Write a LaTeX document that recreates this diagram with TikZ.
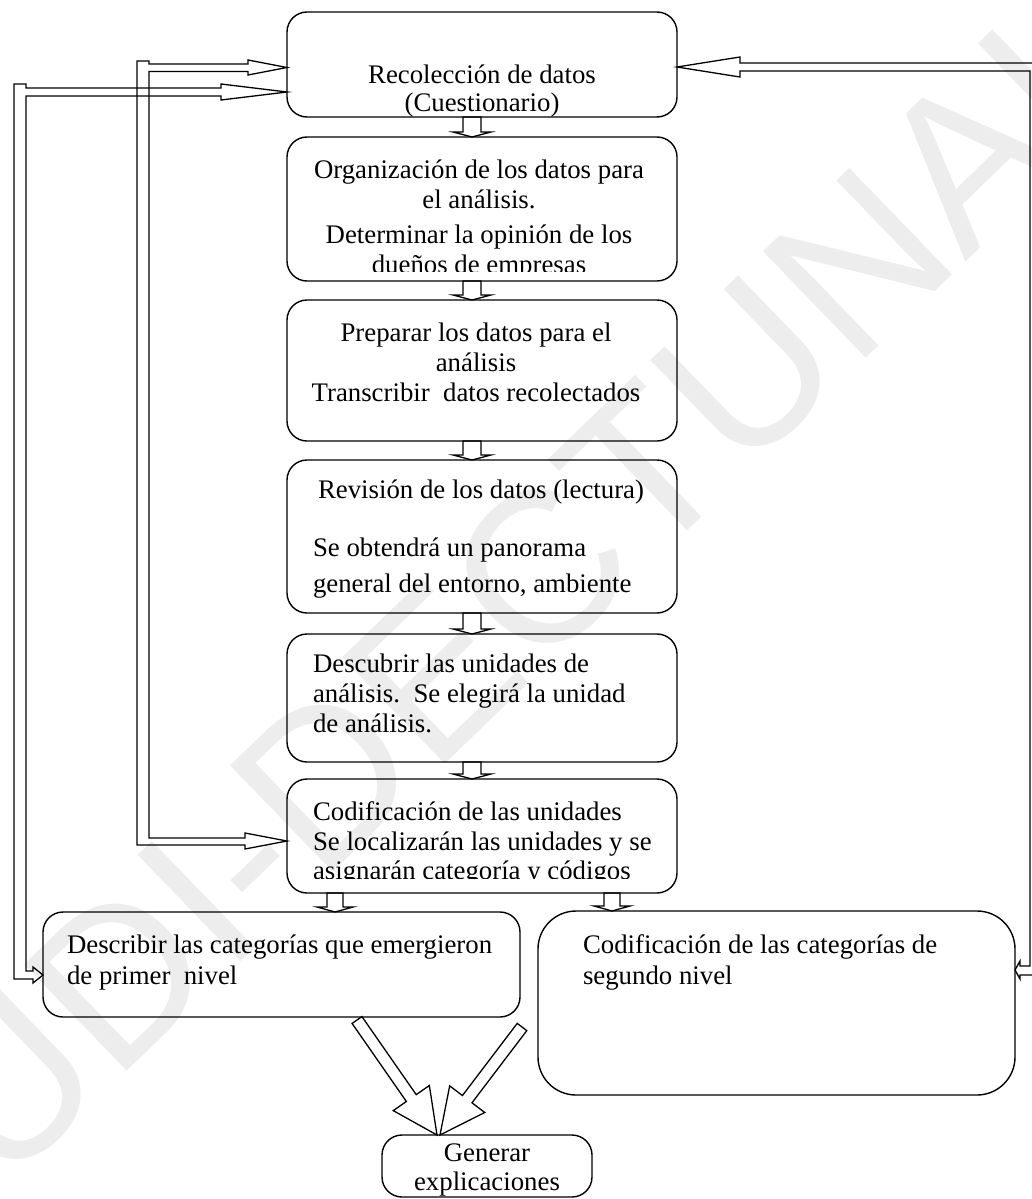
\documentclass[tikz,border=0pt]{standalone}
\usepackage{fontspec}
\setmainfont{Liberation Serif}
\newfontfamily\wmfont{Liberation Sans}
\usetikzlibrary{calc}
\newcommand\blkarrow[5]{%
  \coordinate (ba-h) at ($(#2)!#5!(#1)$);
  \draw[blk] ($(#1)!#3!90:(#2)$) -- ($(ba-h)!#3!90:(#2)$) -- ($(ba-h)!#4!90:(#2)$) -- (#2)
    -- ($(ba-h)!#4!-90:(#2)$) -- ($(ba-h)!#3!-90:(#2)$) -- ($(#1)!#3!-90:(#2)$) -- cycle;}
\begin{document}
\begin{tikzpicture}[x=1pt,y=-1pt,
  box/.style={draw, line width=1.4pt, rounded corners=20pt, inner sep=0pt, outer sep=0pt},
  txt/.style={font=\fontsize{26.8}{30}\selectfont, inner sep=0pt, outer sep=0pt},
  blk/.style={draw, line width=1.3pt, line join=miter},
  wm/.style={font=\wmfont\fontsize{215}{215}\selectfont, text=black!7, rotate=44}]
\useasboundingbox (0,0) rectangle (1031,1199);
\node[wm] (wm) at (540,570) {UDI-DECTUNAH};
% boxes
\node[box, minimum width=390pt, minimum height=105pt] (b1) at (482,64.5) {};
\node[box, minimum width=390pt, minimum height=144pt] (b2) at (482,209) {};
\node[box, minimum width=390pt, minimum height=141pt] (b3) at (482,370.5) {};
\node[box, minimum width=390pt, minimum height=153pt] (b4) at (482,536.5) {};
\node[box, minimum width=390pt, minimum height=128pt] (b5) at (482,698) {};
\node[box, minimum width=390pt, minimum height=114pt] (b6) at (482,836) {};
\node[box, minimum width=477pt, minimum height=105pt] (b7) at (281.5,964.5) {};
\node[box, rounded corners=38pt, minimum width=477pt, minimum height=184pt] (b8) at (776.5,1003) {};
\node[box, minimum width=210pt, minimum height=62pt] (b9) at (487,1166) {};
% texts
\node[txt, align=center, anchor=north] (t1) at (482,62) {\strut Recolección de datos\\[-2pt](Cuestionario)};
\begin{scope}
\clip (287,137) rectangle (677,271);
\node[txt, align=center, anchor=north] (t2) at (479,157) {\strut Organización de los datos para\\el análisis.\\[5pt]Determinar la opinión de los\\dueños de empresas};
\end{scope}
\node[txt, align=center, anchor=north] (t3) at (476,320) {\strut Preparar los datos para el\\análisis\\Transcribir\ \ datos recolectados};
\node[txt, align=left, anchor=north west] (t4) at (313,477) {\strut\hspace{5pt}Revisión de los datos (lectura)\\[28pt]Se obtendrá un panorama\\[6pt]general del entorno, ambiente};
\node[txt, align=left, anchor=north west] (t5) at (313,651) {\strut Descubrir las unidades de\\análisis.\ \ Se elegirá la unidad\\de análisis.};
\begin{scope}
\clip (287,779) rectangle (677,878.5);
\node[txt, align=left, anchor=north west] (t6) at (313,799) {\strut Codificación de las unidades\\Se localizarán las unidades y se\\[-1pt]asignarán categoría y códigos};
\end{scope}
\node[txt, align=left, anchor=north west] (t7) at (67,932) {\strut Describir las categorías que emergieron\\[1pt]de primer\ \ nivel};
\node[txt, align=left, anchor=north west] (t8) at (583,932) {\strut Codificación de las categorías de\\[1pt]segundo nivel};
\node[txt, align=center, anchor=north] (t9) at (487,1140) {\strut Generar\\[-1pt]explicaciones};
% down arrows
\coordinate (d1s) at ([xshift=-10pt]b1.south); \coordinate (d1e) at (d1s |- b2.north);
\coordinate (d2s) at ([xshift=-10pt]b2.south); \coordinate (d2e) at (d2s |- b3.north);
\coordinate (d3s) at ([xshift=-10pt]b3.south); \coordinate (d3e) at (d3s |- b4.north);
\coordinate (d4s) at ([xshift=-10pt]b4.south); \coordinate (d4e) at (d4s |- b5.north);
\coordinate (d5s) at ([xshift=-10pt]b5.south); \coordinate (d5e) at (d5s |- b6.north);
\coordinate (d6s) at ([xshift=-147pt]b6.south); \coordinate (d6e) at (d6s |- b7.north);
\coordinate (d7s) at ([xshift=130pt]b6.south); \coordinate (d7e) at (d7s |- b8.north);
\blkarrow{d1s}{d1e}{9pt}{19pt}{5pt}
\blkarrow{d2s}{d2e}{9pt}{19pt}{5pt}
\blkarrow{d3s}{d3e}{9pt}{19pt}{5pt}
\blkarrow{d4s}{d4e}{9pt}{19pt}{5pt}
\blkarrow{d5s}{d5e}{9pt}{19pt}{5pt}
\blkarrow{d6s}{d6e}{8pt}{18pt}{5pt}
\blkarrow{d7s}{d7e}{8pt}{18pt}{5pt}
% diagonal arrows to Generar
\coordinate (g1s) at (357,1020); \coordinate (g1e) at ([xshift=-50pt]b9.north);
\coordinate (g2s) at (522,1027); \coordinate (g2e) at ([xshift=-47pt]b9.north);
\blkarrow{g1s}{g1e}{6pt}{22pt}{45pt}
\blkarrow{g2s}{g2e}{6pt}{22pt}{45pt}
% feedback rails
\coordinate (tA) at ([yshift=-3pt]b1.west);
\coordinate (tB) at ([yshift=-5pt]b6.west);
\coordinate (tC) at ([yshift=-27.5pt]b1.west);
\coordinate (tD) at ([yshift=-10.5pt]b7.west);
\coordinate (tE) at ([yshift=-2.5pt]b1.east);
\coordinate (tF) at ([yshift=33pt]b8.east);
\draw[blk] (14,84) -- (26,84) -- (26,88) -- (221,88) -- (221,84) -- (tC) -- (221,100) -- (221,96)
  -- (26,96) -- (26,971) -- (33,971) -- (33,967) -- (tD) -- (33,983) -- (33,979) -- (14,979) -- cycle;
\draw[blk] (137,61) -- (149,61) -- (149,64) -- (248,64) -- (248,60) -- (tA) -- (248,75) -- (248,71.5)
  -- (149,71.5) -- (149,838) -- (245,838) -- (245,833) -- (tB) -- (245,849) -- (245,845) -- (137,845) -- cycle;
\draw[blk] (1040,63) -- (740,63) -- (740,57) -- (tE) -- (740,77) -- (740,71) -- (1030,71) -- (1030,966)
  -- (1020,966) -- (1020,961) -- (tF) -- (1020,979) -- (1020,975) -- (1040,975) -- cycle;
\end{tikzpicture}
\end{document}
